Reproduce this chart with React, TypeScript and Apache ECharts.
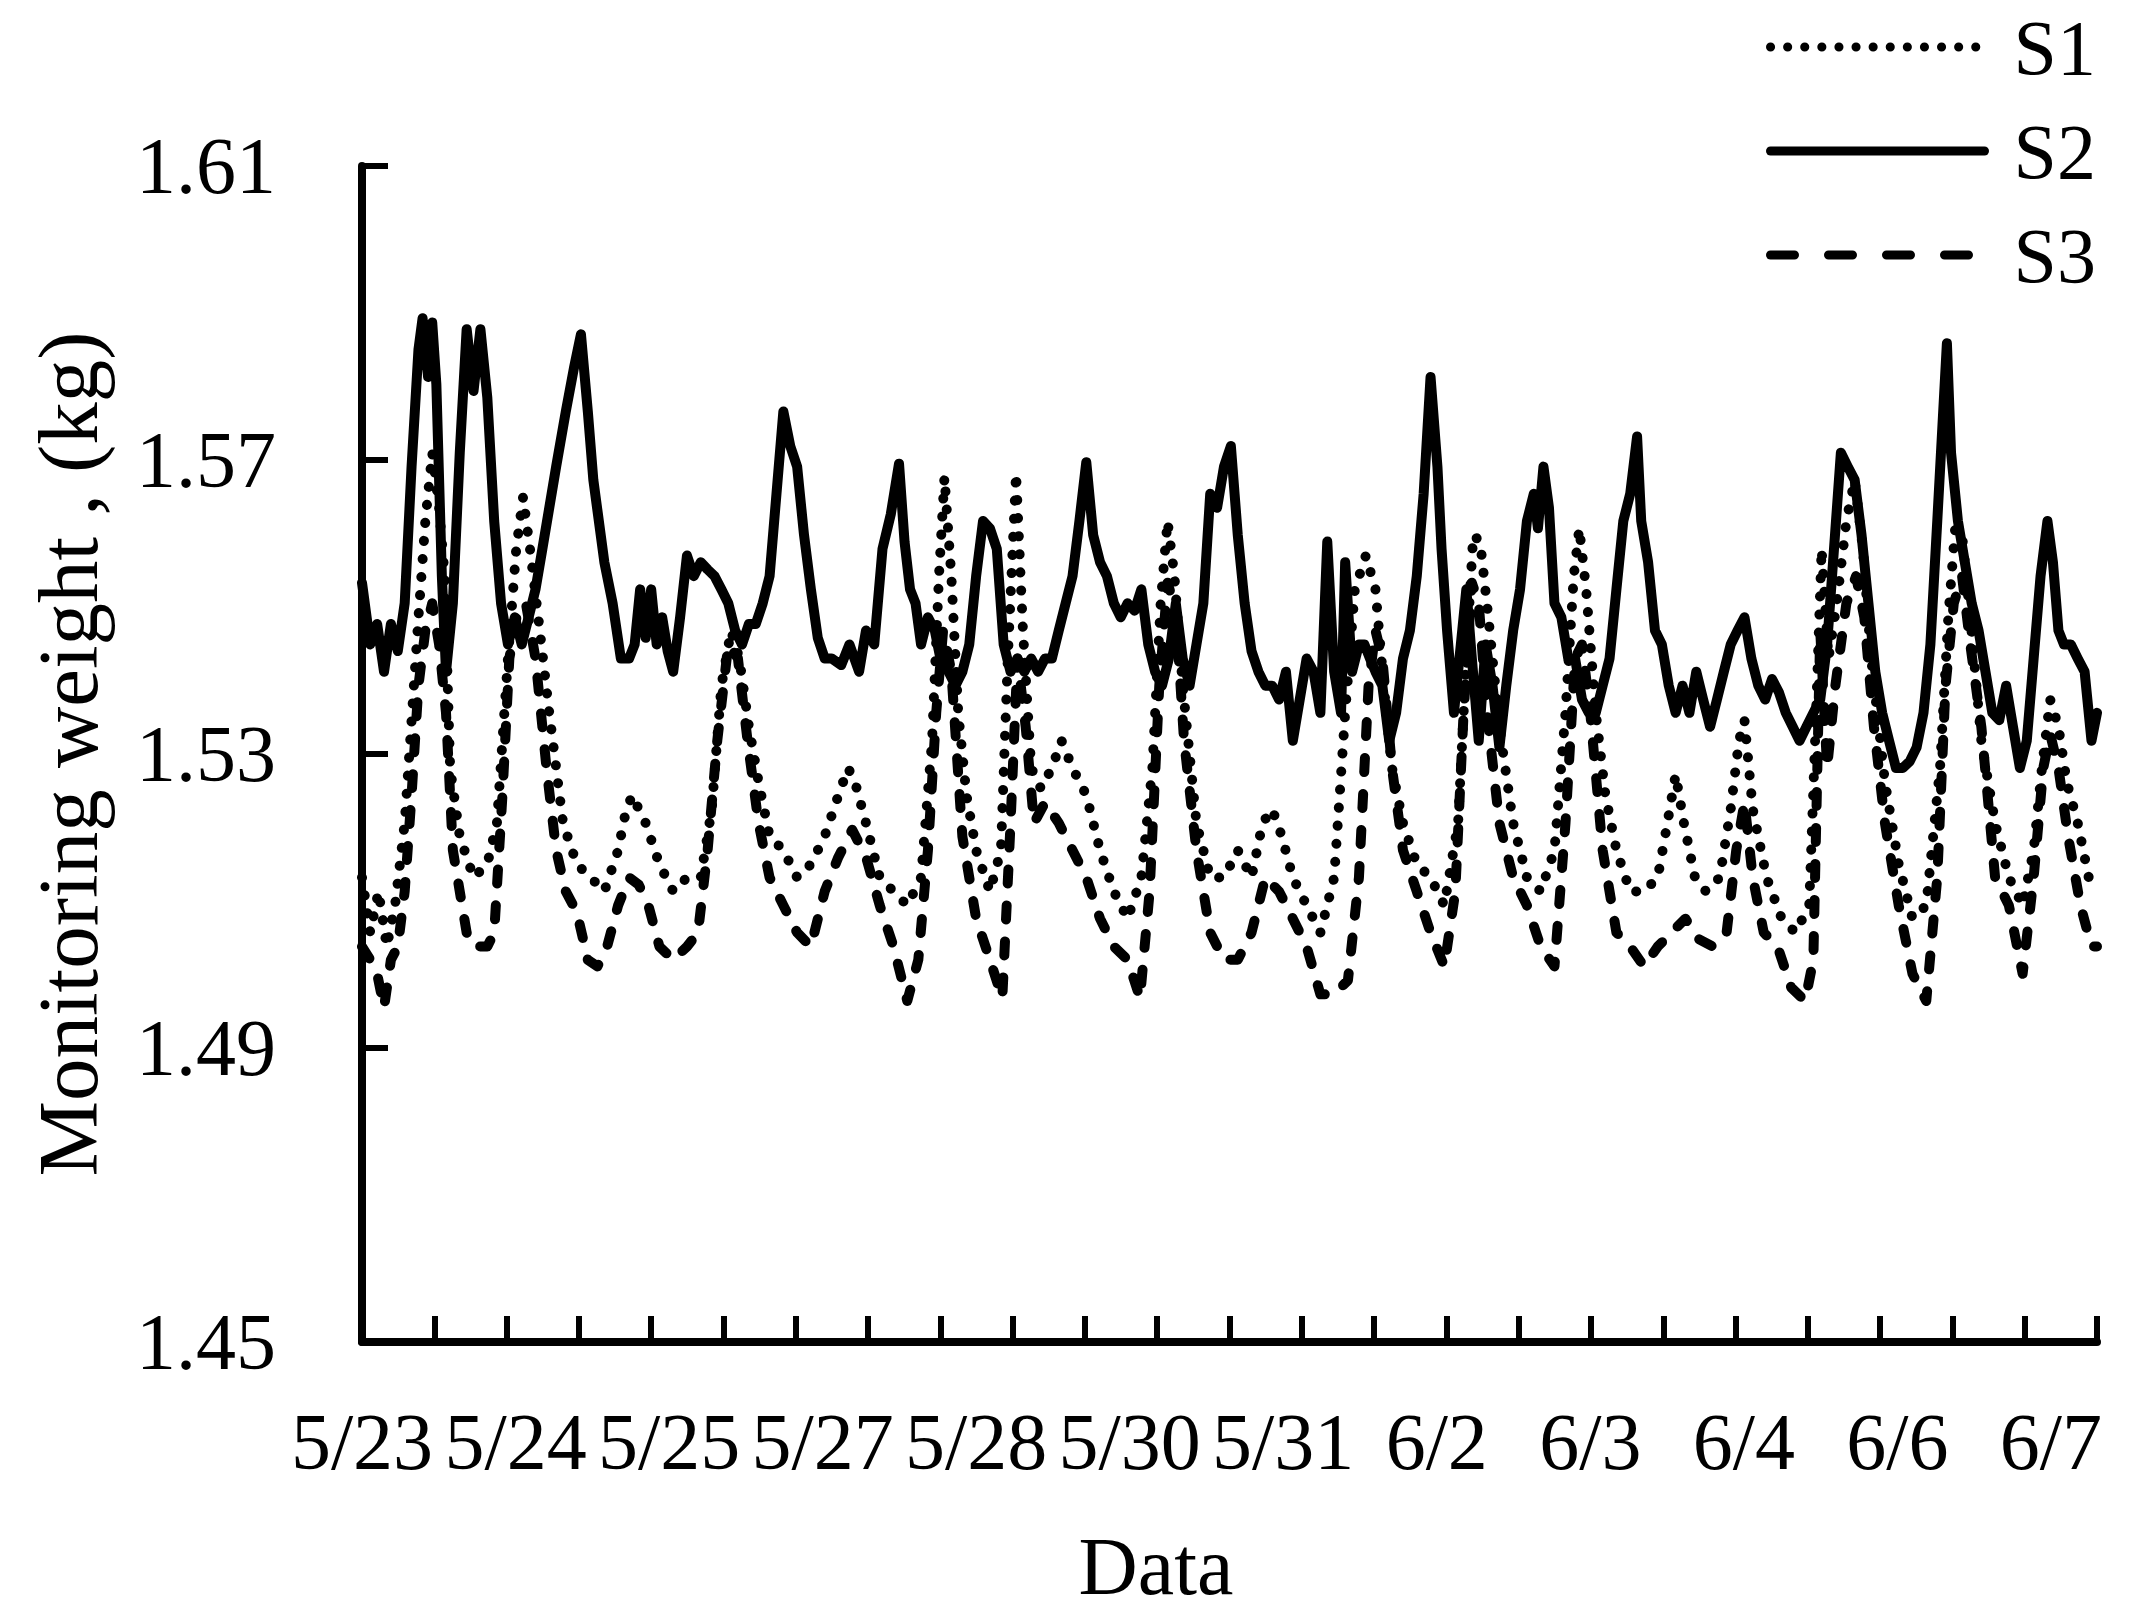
import React, { useEffect, useRef } from "react";
import * as echarts from "echarts";

// x unit: sample index (axis spans 0..252, 24 tick intervals of 10.5)
const X_LABELS = ["5/23", "5/24", "5/25", "5/27", "5/28", "5/30", "5/31", "6/2", "6/3", "6/4", "6/6", "6/7"];
const Y_TICKS = [1.45, 1.49, 1.53, 1.57, 1.61];

const S2_T = [0, 1.2, 2.2, 3.2, 4.2, 5.2, 6.2, 7.2, 8.2, 8.8, 9.6, 10.2, 10.8, 11.6, 12.2, 13.2, 14.2, 15.2, 16.2, 17.2, 18.2, 19.2, 20.2, 21.2, 22.2, 23.2, 24.2, 25.2, 26.2, 28.2, 29.6, 30.8, 31.8, 32.8, 33.6, 35.2, 36.4, 37.6, 38.8, 39.6, 40.4, 41.2, 42.0, 42.8, 43.6, 44.4, 45.2, 46.2, 47.2, 48.2, 49.2, 50.2, 51.2, 52.2, 53.2, 54.2, 55.2, 56.2, 57.2, 58.2, 59.2, 60.2, 61.2, 62.2, 63.2, 64.2, 65.2, 66.2, 67.2, 68.2, 69.6, 70.8, 72.2, 73.2, 74.4, 75.6, 76.8, 78.0, 78.8, 79.6, 80.4, 81.2, 82.2, 83.2, 84.2, 85.2, 86.2, 87.2, 88.2, 89.2, 90.2, 91.2, 92.2, 93.2, 94.2, 95.2, 96.2, 97.2, 98.2, 99.2, 100.2, 101.2, 102.2, 103.2, 104.2, 105.2, 106.2, 107.2, 108.2, 109.2, 110.2, 111.2, 112.2, 113.2, 114.2, 115.2, 116.2, 117.2, 118.2, 119.2, 120.2, 121.2, 122.2, 123.2, 124.2, 125.2, 126.2, 127.2, 128.2, 129.2, 130.2, 131.2, 132.2, 133.2, 134.2, 135.2, 136.2, 137.2, 138.2, 139.2, 140.2, 141.2, 142.2, 142.8, 143.8, 144.8, 145.6, 146.4, 147.2, 148.2, 149.2, 150.2, 151.2, 152.2, 153.2, 154.2, 155.2, 156.2, 156.8, 157.6, 158.6, 159.6, 160.4, 161.2, 162.2, 163.2, 164.2, 165.2, 166.2, 167.2, 168.2, 169.2, 170.2, 170.8, 171.6, 172.4, 173.2, 174.2, 175.2, 176.2, 177.2, 178.2, 179.2, 180.2, 181.2, 182.2, 183.2, 184.2, 185.2, 185.8, 186.8, 187.8, 188.8, 189.8, 190.8, 191.8, 192.8, 193.8, 194.8, 195.8, 196.8, 197.8, 198.8, 199.8, 200.8, 201.8, 202.8, 203.8, 204.8, 205.8, 206.8, 207.8, 208.8, 209.8, 210.8, 211.8, 212.8, 213.8, 214.8, 215.8, 216.8, 217.8, 218.8, 219.8, 220.8, 221.8, 222.8, 223.8, 224.8, 225.8, 226.8, 227.8, 228.8, 230.2, 230.8, 231.8, 232.8, 233.8, 234.8, 235.8, 236.8, 237.8, 238.8, 239.8, 240.8, 241.8, 242.8, 243.8, 244.8, 245.6, 246.4, 247.2, 248.2, 249.2, 250.2, 251.2, 252];
const S2_V = [1.5533, 1.5449, 1.5477, 1.5412, 1.5477, 1.544, 1.5505, 1.5691, 1.585, 1.5893, 1.5813, 1.5887, 1.5803, 1.5542, 1.5412, 1.5505, 1.571, 1.5878, 1.5794, 1.5878, 1.5785, 1.5617, 1.5505, 1.5449, 1.5486, 1.5449, 1.5486, 1.5524, 1.5579, 1.5691, 1.5766, 1.5826, 1.5871, 1.5766, 1.5673, 1.5561, 1.5505, 1.543, 1.543, 1.5449, 1.5524, 1.5458, 1.5524, 1.5449, 1.5486, 1.544, 1.5412, 1.5486, 1.557, 1.5542, 1.5561, 1.5551, 1.5542, 1.5524, 1.5505, 1.5468, 1.5449, 1.5477, 1.5477, 1.5505, 1.5542, 1.5654, 1.5766, 1.5719, 1.5691, 1.5598, 1.5524, 1.5458, 1.543, 1.543, 1.5421, 1.5449, 1.5412, 1.5468, 1.5449, 1.5579, 1.5626, 1.5695, 1.5589, 1.5524, 1.5505, 1.5449, 1.5486, 1.5468, 1.5421, 1.5412, 1.5393, 1.5412, 1.5449, 1.5542, 1.5617, 1.5607, 1.5579, 1.5449, 1.5412, 1.543, 1.5412, 1.543, 1.5412, 1.543, 1.543, 1.5468, 1.5505, 1.5542, 1.5617, 1.5697, 1.5598, 1.5561, 1.5542, 1.5505, 1.5486, 1.5505, 1.5495, 1.5524, 1.5449, 1.5412, 1.5393, 1.543, 1.5505, 1.543, 1.5393, 1.5449, 1.5505, 1.5654, 1.5635, 1.5691, 1.5719, 1.5598, 1.5505, 1.544, 1.5412, 1.5393, 1.5393, 1.5374, 1.5412, 1.5318, 1.5374, 1.543, 1.5412, 1.5356, 1.5589, 1.5412, 1.5356, 1.5561, 1.5412, 1.5449, 1.5449, 1.543, 1.5412, 1.5393, 1.5318, 1.5356, 1.543, 1.5468, 1.5542, 1.5654, 1.5813, 1.5691, 1.5579, 1.5468, 1.5356, 1.5449, 1.5524, 1.543, 1.5318, 1.5449, 1.5393, 1.5309, 1.5393, 1.5468, 1.5524, 1.5617, 1.5654, 1.5607, 1.5691, 1.5635, 1.5505, 1.5486, 1.543, 1.543, 1.5374, 1.5356, 1.5356, 1.5393, 1.543, 1.5524, 1.5617, 1.5654, 1.5732, 1.5617, 1.5561, 1.5468, 1.5449, 1.5393, 1.5356, 1.5393, 1.5356, 1.5412, 1.5374, 1.5337, 1.5374, 1.5412, 1.5449, 1.5468, 1.5486, 1.543, 1.5393, 1.5374, 1.5402, 1.5384, 1.5356, 1.5337, 1.5318, 1.5337, 1.5356, 1.5374, 1.5449, 1.5579, 1.571, 1.5691, 1.5673, 1.5598, 1.5505, 1.5412, 1.5356, 1.5318, 1.5281, 1.5281, 1.529, 1.5309, 1.5356, 1.5449, 1.5617, 1.5859, 1.571, 1.5617, 1.5561, 1.5505, 1.5468, 1.5412, 1.5356, 1.5346, 1.5393, 1.5337, 1.5281, 1.5318, 1.543, 1.5542, 1.5617, 1.5561, 1.5468, 1.5449, 1.5449, 1.543, 1.5412, 1.5318, 1.5356];

const S1_T = [0, 1.2, 2.4, 3.6, 4.8, 6.2, 8.2, 9.2, 10.2, 11.2, 12, 12.8, 14.2, 16.2, 18.2, 19.6, 21.2, 22.4, 23.4, 24.4, 25.6, 27.2, 29.2, 31.2, 33.2, 35.2, 37.2, 38.2, 39.2, 40.2, 41.2, 43.2, 45.2, 47.2, 49.2, 50.8, 52.2, 53.6, 54.8, 56.2, 57.6, 59.2, 61.2, 63.2, 65.2, 67.2, 69.2, 70.6, 71.6, 73.2, 75.2, 77.2, 79.2, 81.2, 82.8, 83.8, 84.6, 85.6, 86.6, 87.8, 89.2, 91.2, 92.8, 93.8, 95, 96, 97.2, 98.6, 100.2, 101.6, 103.2, 105.2, 107.2, 109.2, 111.2, 113.2, 114.8, 116, 117, 118, 119.2, 121.2, 123.2, 125.2, 127.2, 129.2, 130.8, 132.2, 133.6, 135.2, 137.2, 139.2, 141.2, 142.8, 144.2, 145.8, 147.2, 148.4, 149.6, 151.2, 153.2, 155.2, 157.2, 159.2, 160.4, 161.4, 162.4, 163.6, 165.2, 167.2, 169.2, 171.2, 173.2, 174.8, 176, 176.8, 177.8, 179.2, 180.6, 182.2, 184.2, 186.2, 188.2, 189.6, 190.8, 192, 193.6, 195.2, 197.2, 198.8, 200, 200.8, 202, 204, 206.2, 208.2, 210.2, 211.2, 212, 213, 214.2, 215.6, 216.8, 218, 219.2, 221.2, 223.2, 225.2, 227.2, 229.2, 230.4, 231.4, 232.4, 233.6, 235.2, 237.2, 239.2, 241.2, 242.8, 244, 245.2, 246.4, 247.6, 249.2, 250.8, 252];
const S1_V = [1.5132, 1.5057, 1.5113, 1.5038, 1.5094, 1.5206, 1.5486, 1.5617, 1.571, 1.5635, 1.5542, 1.5281, 1.5188, 1.5132, 1.515, 1.5206, 1.543, 1.5579, 1.565, 1.5579, 1.5486, 1.5356, 1.5206, 1.515, 1.5132, 1.5113, 1.5169, 1.5216, 1.5244, 1.5225, 1.5206, 1.515, 1.5113, 1.5132, 1.5132, 1.5225, 1.5393, 1.5468, 1.543, 1.5337, 1.5262, 1.5188, 1.5169, 1.5132, 1.515, 1.5188, 1.5244, 1.5281, 1.5262, 1.5206, 1.5132, 1.5113, 1.5094, 1.5132, 1.5318, 1.5542, 1.5677, 1.5542, 1.5356, 1.5244, 1.5169, 1.5113, 1.5169, 1.543, 1.5682, 1.5468, 1.5281, 1.5253, 1.5281, 1.5318, 1.5281, 1.5244, 1.5169, 1.5113, 1.5076, 1.5132, 1.5281, 1.5505, 1.5617, 1.5542, 1.5393, 1.5206, 1.5132, 1.5132, 1.5169, 1.5132, 1.5206, 1.5225, 1.5188, 1.5132, 1.5094, 1.5057, 1.5132, 1.5356, 1.5524, 1.557, 1.5524, 1.5393, 1.5281, 1.5206, 1.515, 1.5132, 1.5094, 1.5206, 1.543, 1.5598, 1.5589, 1.5486, 1.5337, 1.5206, 1.5132, 1.5113, 1.5169, 1.5356, 1.5542, 1.5607, 1.5524, 1.5356, 1.5244, 1.5169, 1.5113, 1.5113, 1.5132, 1.5206, 1.5272, 1.5206, 1.5132, 1.5113, 1.5132, 1.5225, 1.5318, 1.5346, 1.5225, 1.5132, 1.5076, 1.5057, 1.5094, 1.5356, 1.5579, 1.543, 1.5505, 1.5617, 1.5673, 1.5579, 1.543, 1.5262, 1.515, 1.5076, 1.5094, 1.5281, 1.5486, 1.5607, 1.5598, 1.5486, 1.5318, 1.5206, 1.5132, 1.5094, 1.5169, 1.5281, 1.5374, 1.5337, 1.5262, 1.5206, 1.5132, 1.5113];

const S3_T = [0, 1.2, 2.2, 3.2, 4.2, 5.2, 6.2, 7.2, 8.2, 9.2, 10.2, 11.2, 12.2, 13.2, 15.2, 16.2, 17.2, 18.2, 19.2, 20.4, 21.4, 22.6, 23.8, 25.2, 26.8, 28.2, 29.6, 31.2, 32.8, 34.2, 35.6, 37.2, 38.8, 40.2, 41.6, 43.2, 45.2, 47.2, 48.8, 50.2, 51.6, 53.2, 54.6, 56, 57.6, 59.2, 61.2, 63.2, 65.2, 67.2, 69.2, 71.2, 73.2, 75.2, 77.2, 79.2, 80.8, 82.2, 83.4, 84.4, 85.6, 87.2, 89.2, 91.2, 93, 94.2, 95.2, 96.4, 97.6, 99.2, 101.2, 103.2, 105.2, 107.2, 109.2, 111.2, 113, 114.4, 115.8, 117, 118.2, 119.4, 121.2, 123.2, 125.2, 127.2, 129.2, 131.2, 133.2, 135.2, 137.2, 139.2, 141.2, 143.2, 144.8, 146.2, 147.2, 148.2, 149.6, 151.2, 153.2, 155.2, 157.2, 158.8, 160, 161.2, 162.2, 163.4, 165.2, 167.2, 169.2, 171.2, 173.2, 174.8, 176.2, 177.2, 178.4, 180.2, 182.2, 184.2, 186.2, 188.2, 190.2, 192.2, 194.2, 196.2, 198.2, 199.6, 200.8, 202, 203.6, 205.6, 207.6, 209.6, 210.8, 211.8, 212.8, 214, 215.6, 217, 218.2, 219.6, 221.2, 223.2, 225.2, 227.2, 228.8, 230, 231.2, 232.4, 233.6, 235.2, 237.2, 239.2, 241.2, 242.8, 244.2, 245.2, 246.4, 247.8, 249.6, 251.2, 252];
const S3_V = [1.5038, 1.502, 1.5001, 1.4955, 1.502, 1.5038, 1.5113, 1.5244, 1.5393, 1.5468, 1.5505, 1.5449, 1.5356, 1.5169, 1.5057, 1.5038, 1.5038, 1.5038, 1.5057, 1.5244, 1.543, 1.5495, 1.5505, 1.543, 1.5281, 1.5169, 1.5113, 1.5085, 1.502, 1.5011, 1.5038, 1.5094, 1.5132, 1.5122, 1.5094, 1.5038, 1.502, 1.5038, 1.5057, 1.5169, 1.5318, 1.5449, 1.543, 1.5318, 1.5206, 1.5132, 1.5094, 1.5057, 1.5038, 1.5113, 1.516, 1.5197, 1.516, 1.5094, 1.5038, 1.4964, 1.502, 1.5169, 1.5356, 1.5468, 1.5412, 1.5188, 1.5076, 1.502, 1.4968, 1.5206, 1.543, 1.5337, 1.5206, 1.5234, 1.5206, 1.5169, 1.5132, 1.5076, 1.5038, 1.502, 1.4968, 1.5113, 1.5393, 1.5533, 1.5495, 1.5318, 1.5169, 1.5057, 1.502, 1.502, 1.5057, 1.5132, 1.5113, 1.5076, 1.5038, 1.4973, 1.4973, 1.4992, 1.5132, 1.5393, 1.5468, 1.543, 1.5281, 1.5169, 1.5113, 1.5057, 1.5011, 1.5113, 1.5356, 1.5533, 1.5505, 1.5356, 1.5206, 1.5132, 1.5094, 1.5038, 1.5011, 1.5206, 1.543, 1.5449, 1.5356, 1.5169, 1.5057, 1.5038, 1.5011, 1.5038, 1.5057, 1.5076, 1.5048, 1.5038, 1.5057, 1.5169, 1.5234, 1.5132, 1.5057, 1.5038, 1.4982, 1.4964, 1.502, 1.5468, 1.5281, 1.5393, 1.5505, 1.5542, 1.5486, 1.5337, 1.5206, 1.5094, 1.5001, 1.4964, 1.5132, 1.5393, 1.5505, 1.5542, 1.5449, 1.5337, 1.5132, 1.5094, 1.5001, 1.5132, 1.5281, 1.5327, 1.5281, 1.5188, 1.5094, 1.5038, 1.5038];

const FONT = "Liberation Serif";

function pairs(t: number[], v: number[]) {
  return t.map((x, i) => [x, v[i]]);
}

export default function App() {
  const ref = useRef<HTMLDivElement>(null);
  useEffect(() => {
    if (!ref.current) return;
    const chart = echarts.init(ref.current, null, { renderer: "svg" });
    const axisColor = "#000";
    chart.setOption({
      animation: false,
      backgroundColor: "#fff",
      grid: { left: 362, right: 54, top: 166, bottom: 279, containLabel: false },
      legend: {
        data: [
          { name: "S1", lineStyle: { type: [0.1, 17], width: 9 } },
          { name: "S2", lineStyle: { type: "solid", width: 9 } },
          { name: "S3", lineStyle: { type: [24, 34], width: 9 } },
        ],
        orient: "vertical",
        left: 1766,
        top: 8,
        padding: 0,
        itemWidth: 214,
        itemHeight: 2,
        itemGap: 26,
        itemStyle: { opacity: 0 },
        lineStyle: { width: 9, cap: "round" },
        textStyle: { fontFamily: FONT, fontSize: 78, color: "#000", padding: [0, 0, 0, 24] },
      },
      xAxis: [
        {
          type: "value",
          min: 0,
          max: 252,
          interval: 10.5,
          axisLine: { show: true, onZero: false, lineStyle: { color: axisColor, width: 8 } },
          axisTick: { show: true, inside: true, length: 26, lineStyle: { color: axisColor, width: 6 } },
          axisLabel: { show: false },
          splitLine: { show: false },
        },
        {
          type: "value",
          min: 0,
          max: 252,
          interval: 22.3,
          position: "bottom",
          axisLine: { show: false },
          axisTick: { show: false },
          splitLine: { show: false },
          axisLabel: {
            show: true,
            margin: 60,
            fontFamily: FONT,
            fontSize: 80,
            color: "#000",
            formatter: (_v: number, i: number) => (i < X_LABELS.length ? X_LABELS[i] : ""),
          },
        },
      ],
      yAxis: {
        type: "value",
        min: Y_TICKS[0],
        max: Y_TICKS[Y_TICKS.length - 1],
        interval: 0.04,
        name: "Monitoring weight , (kg)",
        nameLocation: "middle",
        nameGap: 252,
        nameTextStyle: { fontFamily: FONT, fontSize: 85, color: "#000" },
        axisLine: { show: true, onZero: false, lineStyle: { color: axisColor, width: 8 } },
        axisTick: { show: true, inside: true, length: 26, lineStyle: { color: axisColor, width: 6 } },
        axisLabel: {
          margin: 86,
          fontFamily: FONT,
          fontSize: 80,
          color: "#000",
          formatter: (v: number) => v.toFixed(2),
        },
        splitLine: { show: false },
      },
      graphic: [
        {
          type: "text",
          x: 1156,
          y: 1566,
          style: { text: "Data", fontFamily: FONT, fontSize: 82, fill: "#000", align: "center", verticalAlign: "middle" },
        },
      ],
      series: [
        {
          name: "S1",
          type: "line",
          symbol: "none",
          data: pairs(S1_T, S1_V),
          lineStyle: { color: "#000", width: 10, type: [0.1, 18], cap: "round", join: "round" },
          itemStyle: { color: "#000" },
        },
        {
          name: "S2",
          type: "line",
          symbol: "none",
          data: pairs(S2_T, S2_V),
          lineStyle: { color: "#000", width: 10, type: "solid", cap: "round", join: "round" },
          itemStyle: { color: "#000" },
        },
        {
          name: "S3",
          type: "line",
          symbol: "none",
          data: pairs(S3_T, S3_V),
          lineStyle: { color: "#000", width: 10, type: [14, 22], cap: "round", join: "round" },
          itemStyle: { color: "#000" },
        },
      ],
    });
    return () => chart.dispose();
  }, []);
  return <div ref={ref} style={{ position: "fixed", left: 0, top: 0, width: 2151, height: 1621, background: "#fff" }} />;
}
